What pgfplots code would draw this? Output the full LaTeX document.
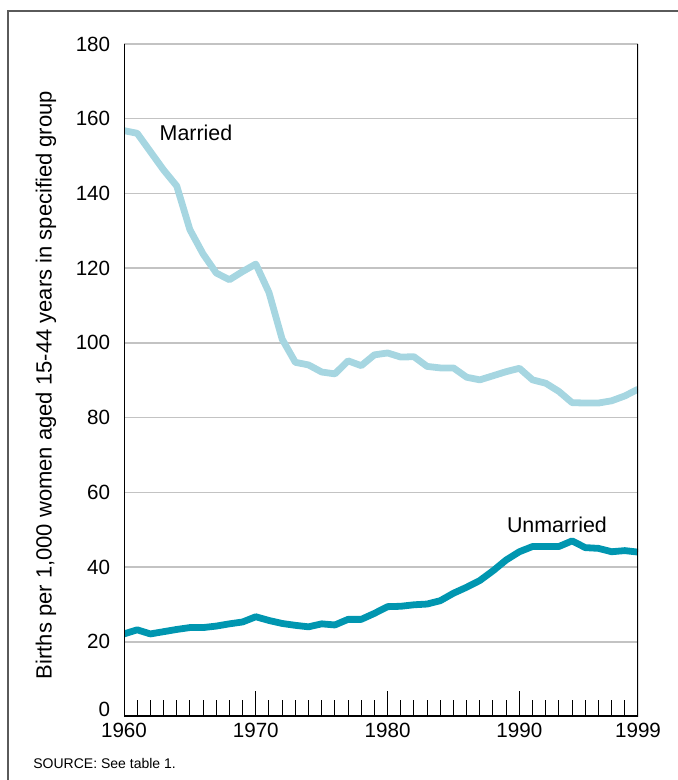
\documentclass[border=0pt]{standalone}
\usepackage{fontspec}
\setmainfont{Liberation Sans}
\usepackage{pgfplots}
\pgfplotsset{compat=1.18}
\definecolor{married}{RGB}{166,214,225}
\definecolor{unmarried}{RGB}{0,150,176}
\definecolor{gridgray}{RGB}{195,195,195}
\definecolor{framegray}{RGB}{90,90,90}
\begin{document}
\begin{tikzpicture}
\path[use as bounding box] (0,0) rectangle (339pt,390pt);
\draw[framegray, line width=0.6pt] (4pt,0) -- (4pt,384.5pt) -- (339pt,384.5pt);
\begin{axis}[
  at={(62pt,31.75pt)}, anchor=south west,
  scale only axis, width=257pt, height=336.25pt,
  xmin=1960, xmax=1999, ymin=0, ymax=180,
  axis line style={draw=none},
  ytick={20,40,...,180},
  extra y ticks={0},
  extra y tick style={grid=none, yticklabel style={inner sep=0pt, xshift=-3.3pt, yshift=3.6pt}},
  ymajorgrids, major grid style={gridgray, line width=0.75pt},
  ytick style={draw=none},
  xtick={1960,1970,1980,1990},
  minor xtick={1961,...,1998},
  extra x ticks={1999},
  extra x tick style={tick style={draw=none}, grid=none},
  xtick pos=left, tick align=inside,
  major tick length=12.5pt, minor tick length=8pt,
  every tick/.style={black, line width=0.5pt},
  tick label style={font=\fontsize{10.3}{12}\selectfont},
  /pgf/number format/assume math mode=true,
  /pgf/number format/1000 sep={},
  yticklabel style={xshift=-3.4pt},
]
\addplot[married, line width=3.4pt, line join=round] coordinates {
(1960,156.8) (1961,156.1) (1962,151.2) (1963,146.3) (1964,142.0)
(1965,130.3) (1966,123.8) (1967,118.7) (1968,116.9) (1969,119.1)
(1970,121.1) (1971,113.5) (1972,101.0) (1973,94.8) (1974,94.1)
(1975,92.2) (1976,91.7) (1977,95.2) (1978,93.9) (1979,96.8)
(1980,97.3) (1981,96.2) (1982,96.3) (1983,93.7) (1984,93.3)
(1985,93.3) (1986,90.8) (1987,90.1) (1988,91.2) (1989,92.3)
(1990,93.2) (1991,90.1) (1992,89.2) (1993,87.0) (1994,84.0)
(1995,83.9) (1996,83.9) (1997,84.5) (1998,85.8) (1999,87.6)
};
\addplot[unmarried, line width=3.4pt, line join=round] coordinates {
(1960,22.1) (1961,23.2) (1962,22.1) (1963,22.7) (1964,23.3)
(1965,23.8) (1966,23.8) (1967,24.2) (1968,24.8) (1969,25.3)
(1970,26.7) (1971,25.7) (1972,24.9) (1973,24.4) (1974,24.0)
(1975,24.8) (1976,24.5) (1977,26.0) (1978,26.0) (1979,27.6)
(1980,29.4) (1981,29.5) (1982,29.9) (1983,30.1) (1984,31.0)
(1985,33.0) (1986,34.6) (1987,36.4) (1988,39.0) (1989,41.9)
(1990,44.1) (1991,45.5) (1992,45.5) (1993,45.5) (1994,47.0)
(1995,45.2) (1996,45.0) (1997,44.1) (1998,44.4) (1999,44.0)
};
\node[font=\fontsize{10.7}{12}\selectfont] at (axis cs:1965.46,156.2) {Married};
\node[font=\fontsize{10.7}{12}\selectfont] at (axis cs:1992.85,51.3) {Unmarried};
\draw[black, line width=1.1pt] (rel axis cs:0,1) -- (rel axis cs:0,0) -- (rel axis cs:1,0) -- (rel axis cs:1,1);
\end{axis}
\node[rotate=90, font=\fontsize{11}{13}\selectfont] at (23pt,197.5pt) {Births per 1,000 women aged 15-44 years in specified group};
\node[anchor=west, font=\fontsize{7}{8}\selectfont, inner sep=0pt] at (16.5pt,8.5pt) {SOURCE: See table 1.};
\end{tikzpicture}
\end{document}
